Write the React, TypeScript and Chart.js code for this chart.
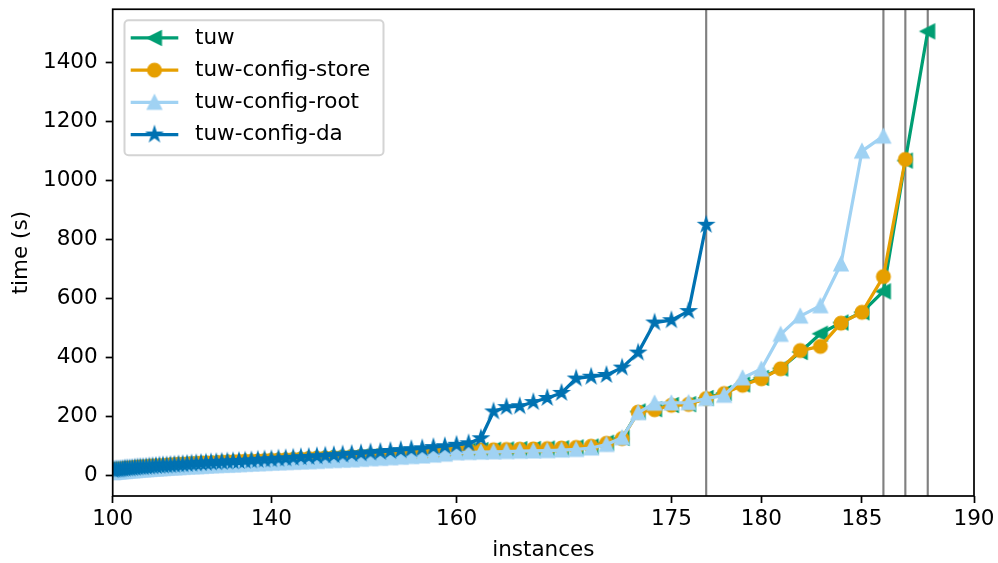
import React, { useEffect, useRef } from 'react';
import { Chart, LinearScale, registerables } from 'chart.js';

Chart.register(...registerables);

// ---------------- data ----------------
const INSTANCES = [
  100, 101, 102, 103, 104, 105, 106, 107, 108, 109,
  110, 111, 112, 113, 114, 115, 116, 117, 118, 119,
  120, 121, 122, 123, 124, 125, 126, 127, 128, 129,
  130, 131, 132, 133, 134, 135, 136, 137, 138, 139,
  140, 141, 142, 143, 144, 145, 146, 147, 148, 149,
  150, 151, 152, 153, 154, 155, 156, 157, 158, 159,
  160, 161, 162, 163, 164, 165, 166, 167, 168, 169,
  170, 171, 172, 173, 174, 175, 176, 177, 178, 179,
  180, 181, 182, 183, 184, 185, 186, 187, 188,
];

const TUW = [
  15, 17, 17, 18, 20, 20, 21, 23, 23, 24,
  25, 25, 26, 28, 28, 29, 30, 30, 31, 33,
  33, 34, 34, 35, 37, 37, 38, 39, 39, 40,
  41, 42, 43, 43, 44, 46, 46, 47, 48, 49,
  50, 51, 51, 53, 54, 55, 56, 58, 59, 60,
  61, 63, 64, 65, 67, 69, 71, 73, 76, 79,
  83, 84, 85, 86, 87, 88, 89, 90, 91, 94, 97, 110, 126,
  216, 224, 238, 241, 262, 279, 308, 330, 362, 418, 480, 518, 553, 624, 1068, 1507,
];

const STORE = [
  17, 17, 19, 19, 20, 21, 22, 22, 24, 24,
  25, 26, 27, 27, 28, 29, 30, 31, 31, 32,
  33, 34, 35, 36, 36, 37, 38, 39, 40, 41,
  41, 42, 43, 44, 45, 46, 47, 47, 48, 49,
  50, 51, 52, 53, 54, 56, 57, 58, 59, 60,
  62, 63, 64, 66, 67, 69, 71, 74, 77, 80,
  84, 85, 86, 86, 87, 88, 89, 90, 92, 94, 98, 108, 124,
  214, 222, 237, 240, 260, 277, 305, 327, 361, 423, 437, 516, 553, 674, 1072,
];

const ROOT = [
  9, 10, 11, 11, 12, 13, 13, 14, 15, 15,
  16, 17, 18, 18, 19, 20, 21, 21, 22, 23,
  24, 25, 25, 26, 27, 28, 29, 29, 30, 31,
  32, 33, 34, 34, 35, 36, 37, 38, 39, 40,
  41, 42, 43, 44, 45, 46, 47, 49, 50, 51,
  52, 54, 56, 57, 59, 61, 63, 65, 68, 71,
  76, 77, 78, 79, 80, 81, 82, 83, 85, 87, 92, 104, 127,
  212, 244, 245, 246, 260, 271, 330, 360, 478, 540, 575, 717, 1100, 1151,
];

const DA = [
  17, 18, 19, 19, 20, 21, 22, 23, 23, 24,
  25, 26, 27, 27, 28, 29, 30, 31, 32, 33,
  33, 34, 35, 36, 37, 38, 39, 40, 41, 42,
  43, 44, 45, 46, 47, 48, 49, 50, 52, 53,
  54, 56, 57, 59, 61, 62, 64, 66, 68, 70,
  72, 74, 77, 79, 82, 85, 88, 91, 95, 98,
  103, 108, 125, 216, 231, 234, 248, 262, 279, 328, 334, 340, 365, 416, 518, 526, 557, 850,
];

const LABELS = ['tuw', 'tuw-config-store', 'tuw-config-root', 'tuw-config-da'];
const X_TICKS = [100, 140, 160, 175, 180, 185, 190];
const Y_TICKS = [0, 200, 400, 600, 800, 1000, 1200, 1400];

// ---------------- style ----------------
const COLORS = ['#009E73', '#E69F00', '#A0D2F3', '#0072B2'];
const MARKERS = ['tri-left', 'circle', 'tri-up', 'star'];
const FONT = 'DejaVu Sans';
const FS = 21.5;
const X_POWER = 5;
const MARKER_R = 6.45;
const LINE_W = 3.25;

class PowScale extends LinearScale {
  static id = 'pow5';
  static defaults = {};
  _fw(v: number) {
    return Math.pow(v, X_POWER);
  }
  getPixelForValue(value: any) {
    if (value === null || value === undefined || isNaN(value)) return NaN;
    const a = this._fw((this as any).min);
    const b = this._fw((this as any).max);
    return (this as any).getPixelForDecimal((this._fw(value) - a) / (b - a));
  }
  getValueForPixel(pixel: number) {
    const a = this._fw((this as any).min);
    const b = this._fw((this as any).max);
    const d = (this as any).getDecimalForPixel(pixel);
    return Math.pow(a + d * (b - a), 1 / X_POWER);
  }
}
Chart.register(PowScale as any);

function makeMarker(kind: string, color: string): HTMLCanvasElement {
  const S = 28;
  const c = document.createElement('canvas');
  c.width = S;
  c.height = S;
  const ctx = c.getContext('2d')!;
  const r = MARKER_R;
  ctx.translate(S / 2, S / 2);
  ctx.beginPath();
  if (kind === 'circle') {
    ctx.arc(0, 0, r, 0, Math.PI * 2);
  } else if (kind === 'tri-up') {
    ctx.moveTo(0, -r);
    ctx.lineTo(-r, r);
    ctx.lineTo(r, r);
    ctx.closePath();
  } else if (kind === 'tri-left') {
    ctx.moveTo(-r, 0);
    ctx.lineTo(r, -r);
    ctx.lineTo(r, r);
    ctx.closePath();
  } else {
    for (let i = 0; i < 10; i++) {
      const ang = -Math.PI / 2 + (i * Math.PI) / 5;
      const rr = i % 2 === 0 ? r : r * 0.381966;
      const px = Math.cos(ang) * rr;
      const py = Math.sin(ang) * rr;
      if (i === 0) ctx.moveTo(px, py);
      else ctx.lineTo(px, py);
    }
    ctx.closePath();
  }
  ctx.fillStyle = color;
  ctx.fill();
  ctx.lineWidth = 2.15;
  ctx.lineJoin = 'miter';
  ctx.strokeStyle = color;
  ctx.stroke();
  return c;
}

export default function App() {
  const ref = useRef<HTMLCanvasElement>(null);

  useEffect(() => {
    const seriesValues = [TUW, STORE, ROOT, DA];
    const markerImgs = MARKERS.map((m, i) => makeMarker(m, COLORS[i]));

    const datasets = seriesValues.map((vals, i) => ({
      label: LABELS[i],
      data: vals.map((y, k) => ({ x: INSTANCES[k], y })),
      borderColor: COLORS[i],
      backgroundColor: COLORS[i],
      borderWidth: LINE_W,
      borderJoinStyle: 'round',
      pointStyle: markerImgs[i],
      pointRadius: 6,
      pointHoverRadius: 6,
      tension: 0,
      clip: 0,
      order: seriesValues.length - 1 - i,
    }));

    const framePlugin = {
      id: 'frameAndLines',
      beforeDatasetsDraw(chart: any) {
        const { ctx, chartArea } = chart;
        const xs = chart.scales.x;
        ctx.save();
        ctx.beginPath();
        ctx.rect(chartArea.left, chartArea.top, chartArea.right - chartArea.left, chartArea.bottom - chartArea.top);
        ctx.clip();
        ctx.strokeStyle = '#808080';
        ctx.lineWidth = 2.15;
        seriesValues.forEach((vals) => {
          const px = xs.getPixelForValue(INSTANCES[vals.length - 1]);
          ctx.beginPath();
          ctx.moveTo(px, chartArea.top);
          ctx.lineTo(px, chartArea.bottom);
          ctx.stroke();
        });
        ctx.restore();
      },
      afterDatasetsDraw(chart: any) {
        const { ctx, chartArea } = chart;
        ctx.save();
        ctx.strokeStyle = '#000';
        ctx.lineWidth = 1.72;
        ctx.strokeRect(chartArea.left, chartArea.top, chartArea.right - chartArea.left, chartArea.bottom - chartArea.top);
        ctx.restore();
      },
      afterDraw(chart: any) {
        const { ctx, chartArea } = chart;
        const bx = chartArea.left + 11.8;
        const by = chartArea.top + 11;
        const bw = 259;
        const bh = 135;
        ctx.save();
        ctx.beginPath();
        if ((ctx as any).roundRect) (ctx as any).roundRect(bx, by, bw, bh, 4);
        else ctx.rect(bx, by, bw, bh);
        ctx.fillStyle = 'rgba(255,255,255,0.8)';
        ctx.fill();
        ctx.strokeStyle = '#d4d4d4';
        ctx.lineWidth = 2;
        ctx.stroke();
        LABELS.forEach((lab, i) => {
          const y = by + 17.7 + i * 32.2;
          const x0 = bx + 6.2;
          const x1 = bx + 53.8;
          ctx.beginPath();
          ctx.moveTo(x0, y);
          ctx.lineTo(x1, y);
          ctx.strokeStyle = COLORS[i];
          ctx.lineWidth = LINE_W;
          ctx.lineCap = 'butt';
          ctx.stroke();
          const img = markerImgs[i];
          ctx.drawImage(img, (x0 + x1) / 2 - img.width / 2, y - img.height / 2);
          ctx.fillStyle = '#000';
          ctx.font = `${FS}px "${FONT}"`;
          ctx.textBaseline = 'middle';
          ctx.textAlign = 'left';
          ctx.fillText(lab, bx + 70.5, y);
        });
        ctx.restore();
      },
    };

    const chart = new Chart(ref.current!, {
      type: 'line',
      data: { datasets: datasets as any },
      options: {
        responsive: false,
        maintainAspectRatio: false,
        animation: false,
        devicePixelRatio: 1,
        events: [],
        layout: { padding: { left: 0, right: 24, top: 8, bottom: 0 } },
        font: { family: FONT, size: FS },
        plugins: {
          legend: { display: false },
          tooltip: { enabled: false },
        },
        scales: {
          x: {
            type: 'pow5' as any,
            position: 'bottom',
            min: 100,
            max: 190,
            afterBuildTicks: (s: any) => {
              s.ticks = X_TICKS.map((v) => ({ value: v }));
            },
            afterFit: (s: any) => {
              s.height = 67;
              s.paddingLeft = 0;
              s.paddingRight = 0;
            },
            border: { display: false },
            grid: {
              display: true,
              drawOnChartArea: false,
              drawTicks: true,
              tickLength: 7,
              tickWidth: 1.72,
              tickColor: '#000',
            },
            ticks: {
              padding: 4,
              color: '#000',
              font: { family: FONT, size: FS },
              maxRotation: 0,
              autoSkip: false,
              callback: (v: any) => String(v),
            },
            title: {
              display: true,
              text: 'instances',
              color: '#000',
              font: { family: FONT, size: FS },
              padding: { top: 0, bottom: 0 },
            },
          } as any,
          y: {
            type: 'linear',
            min: -71,
            max: 1582,
            afterBuildTicks: (s: any) => {
              s.ticks = Y_TICKS.map((v) => ({ value: v }));
            },
            afterFit: (s: any) => {
              s.width = 112.7;
              s.paddingTop = 0;
              s.paddingBottom = 0;
            },
            border: { display: false },
            grid: {
              display: true,
              drawOnChartArea: false,
              drawTicks: true,
              tickLength: 7,
              tickWidth: 1.72,
              tickColor: '#000',
            },
            ticks: {
              padding: 8,
              color: '#000',
              font: { family: FONT, size: FS },
              autoSkip: false,
              callback: (v: any) => String(v),
            },
            title: {
              display: true,
              text: 'time (s)',
              color: '#000',
              font: { family: FONT, size: FS },
              padding: { top: 9, bottom: 0 },
            },
          },
        },
      },
      plugins: [framePlugin],
    });

    return () => chart.destroy();
  }, []);

  return (
    <div style={{ position: 'absolute', left: 0, top: 0, width: 998, height: 563, background: '#fff' }}>
      <canvas ref={ref} width={998} height={563} style={{ display: 'block', width: 998, height: 563 }} />
    </div>
  );
}
